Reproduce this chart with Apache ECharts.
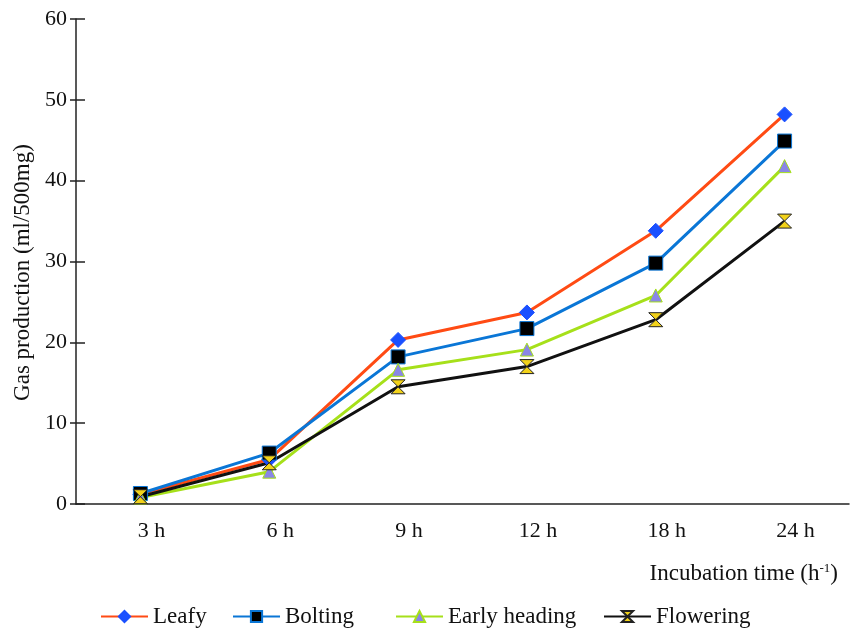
<!DOCTYPE html>
<html>

<head>
    <meta charset="utf-8">
    <title>Gas production</title>
    <script src="https://cdn.jsdelivr.net/npm/echarts@6/dist/echarts.min.js"></script>
</head>

<body style="margin:0">
    <div id="main" style="width: 851px;height:629px;"></div>
    <script type="text/javascript">
        var dom = document.getElementById("main");
        var myChart = echarts.init(dom);

        // incubation times (x axis)
        var categories = ['3 h', '6 h', '9 h', '12 h', '18 h', '24 h'];
        // gas production, ml/500mg
        var leafy = [1.2, 5.5, 20.3, 23.7, 33.8, 48.2];
        var bolting = [1.3, 6.3, 18.2, 21.7, 29.8, 44.9];
        var earlyHeading = [0.8, 4.0, 16.6, 19.1, 25.8, 41.8];
        var flowering = [0.9, 5.1, 14.5, 17.0, 22.8, 35.0];

        var seriesNames = ['Leafy', 'Bolting', 'Early heading', 'Flowering'];
        var legendLeft = [95, 227, 390, 598];

        var font = 'Liberation Serif';
        var xMark = 'path://M0,0L10,0L5,5L10,10L0,10L5,5Z';

        function lineSeries(name, data, lineColor, symbol, size, fill, border) {
            return {
                name: name,
                type: 'line',
                data: data,
                symbol: symbol,
                symbolSize: size,
                lineStyle: { color: lineColor, width: 3 },
                itemStyle: { color: fill, borderColor: border, borderWidth: 1 },
                z: 3
            };
        }

        // one legend per item, the gaps in the original are uneven
        var legends = seriesNames.map(function (name, i) {
            return {
                left: legendLeft[i],
                top: 600,
                itemWidth: 47,
                itemHeight: 14,
                data: [name],
                textStyle: { fontFamily: font, fontSize: 23, color: '#111' }
            };
        });

        var option = {
            animation: false,
            textStyle: { fontFamily: font },
            grid: { left: 76, right: 2, top: 19, bottom: 125 },
            legend: legends,
            xAxis: [{
                type: 'category',
                data: categories,
                axisLine: { lineStyle: { color: '#222', width: 1.5 } },
                axisTick: { length: 6, lineStyle: { color: '#222', width: 1.5 } },
                axisLabel: { fontFamily: font, fontSize: 22, color: '#111', margin: 16, padding: [0, 0, 0, 22] }
            }, {
                type: 'category',
                data: categories,
                position: 'bottom',
                axisLine: { show: false },
                axisTick: { inside: true, length: 6, lineStyle: { color: '#222', width: 1.5 } },
                axisLabel: { show: false }
            }],
            yAxis: [{
                type: 'value',
                min: 0,
                max: 60,
                interval: 10,
                name: 'Gas production (ml/500mg)',
                nameLocation: 'middle',
                nameGap: 40,
                nameTextStyle: { fontFamily: font, fontSize: 23, color: '#111', padding: [0, 22, 0, 0] },
                splitLine: { show: false },
                axisLine: { show: true, lineStyle: { color: '#222', width: 1.5 } },
                axisTick: { show: true, length: 6, lineStyle: { color: '#222', width: 1.5 } },
                axisLabel: { fontFamily: font, fontSize: 22, color: '#111', margin: 9 }
            }, {
                type: 'value',
                min: 0,
                max: 60,
                interval: 10,
                position: 'left',
                splitLine: { show: false },
                axisLine: { show: false },
                axisTick: { show: true, inside: true, length: 9, lineStyle: { color: '#222', width: 1.5 } },
                axisLabel: { show: false }
            }],
            graphic: [{
                type: 'text',
                right: 13,
                top: 562,
                style: {
                    text: '{a|Incubation time (h}{s|-1}{a|)}',
                    rich: {
                        a: { fontFamily: font, fontSize: 23, fill: '#111' },
                        s: { fontFamily: font, fontSize: 13, fill: '#111', verticalAlign: 'top', padding: [0, 0, 10, 0] }
                    }
                }
            }],
            series: [
                lineSeries('Leafy', leafy, '#ff4b14', 'diamond', 15, '#1a50ff', '#1a50ff'),
                lineSeries('Bolting', bolting, '#0a76d6', 'rect', 14, '#000', '#0a76d6'),
                lineSeries('Early heading', earlyHeading, '#a6e01a', 'triangle', 13, '#8a86e6', '#a6e01a'),
                lineSeries('Flowering', flowering, '#111', xMark, 14, '#f2d21a', '#222')
            ]
        };

        myChart.setOption(option);
    </script>
</body>

</html>
